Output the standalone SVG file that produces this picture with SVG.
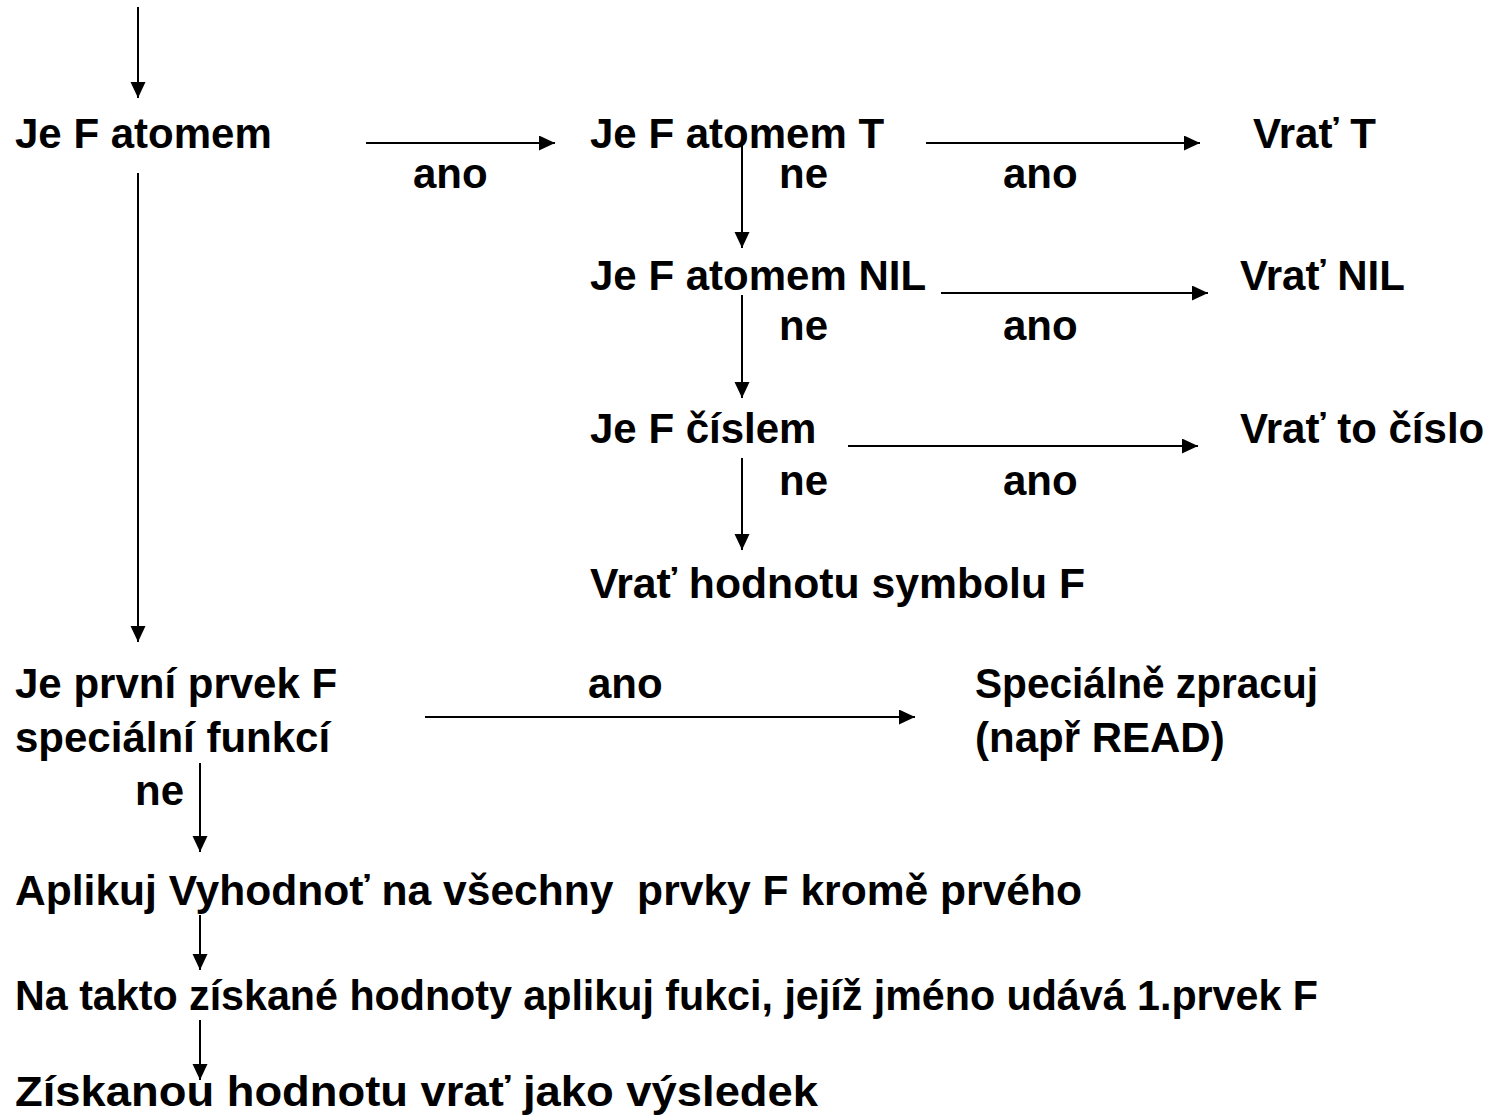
<svg xmlns="http://www.w3.org/2000/svg" width="1492" height="1116" viewBox="0 0 1492 1116">
  <defs>
    <style>
      text { font-family: "Liberation Sans", Arial, sans-serif; font-weight: bold; font-size: 42px; fill: #000; }
      .edge { stroke: #000; stroke-width: 2; fill: none; marker-end: url(#head); }
    </style>
    <marker id="head" markerUnits="userSpaceOnUse" markerWidth="18" markerHeight="16" refX="16" refY="7.5" orient="auto">
      <path d="M0,0 L16,7.5 L0,15 Z" fill="#000"/>
    </marker>
  </defs>
  <rect width="1492" height="1116" fill="#fff"/>

  <!-- flow connectors -->
  <g id="connectors">
    <path class="edge" d="M138,7 V98"/>
    <path class="edge" d="M138,173 V642"/>
    <path class="edge" d="M366,143 H555"/>
    <path class="edge" d="M742,143 V248"/>
    <path class="edge" d="M926,143 H1200"/>
    <path class="edge" d="M941,293 H1208"/>
    <path class="edge" d="M742,295 V398"/>
    <path class="edge" d="M848,446 H1198"/>
    <path class="edge" d="M742,458 V550"/>
    <path class="edge" d="M425,717 H915"/>
    <path class="edge" d="M200,763 V852"/>
    <path class="edge" d="M200,915 V970"/>
    <path class="edge" d="M200,1020 V1080"/>
  </g>

  <!-- decision and action nodes -->
  <g id="is-atom"><text x="15" y="148">Je F atomem</text></g>
  <g id="is-t"><text x="590" y="148">Je F atomem T</text></g>
  <g id="ret-t"><text x="1253" y="148">Vrať T</text></g>
  <g id="is-nil"><text x="590" y="290">Je F atomem NIL</text></g>
  <g id="ret-nil"><text x="1240" y="290">Vrať NIL</text></g>
  <g id="is-number"><text x="590" y="443">Je F číslem</text></g>
  <g id="ret-number"><text x="1240" y="443">Vrať to číslo</text></g>
  <g id="ret-symbol"><text x="590" y="598" textLength="495" lengthAdjust="spacingAndGlyphs">Vrať hodnotu symbolu F</text></g>
  <g id="is-special">
    <text x="15" y="698">Je první prvek F</text>
    <text x="15" y="752">speciální funkcí</text>
  </g>
  <g id="special">
    <text x="975" y="698" textLength="343" lengthAdjust="spacingAndGlyphs">Speciálně zpracuj</text>
    <text x="975" y="752">(např READ)</text>
  </g>
  <g id="eval-args"><text x="15" y="905" xml:space="preserve" textLength="1067" lengthAdjust="spacingAndGlyphs">Aplikuj Vyhodnoť na všechny  prvky F kromě prvého</text></g>
  <g id="apply-fn"><text x="15" y="1010" textLength="1303" lengthAdjust="spacingAndGlyphs">Na takto získané hodnoty aplikuj fukci, jejíž jméno udává 1.prvek F</text></g>
  <g id="return-result"><text x="15" y="1106" textLength="803" lengthAdjust="spacingAndGlyphs">Získanou hodnotu vrať jako výsledek</text></g>

  <!-- branch labels -->
  <g id="labels">
    <text x="413" y="188">ano</text>
    <text x="779" y="188">ne</text>
    <text x="1003" y="188">ano</text>
    <text x="779" y="340">ne</text>
    <text x="1003" y="340">ano</text>
    <text x="779" y="495">ne</text>
    <text x="1003" y="495">ano</text>
    <text x="588" y="698">ano</text>
    <text x="135" y="805">ne</text>
  </g>
</svg>
